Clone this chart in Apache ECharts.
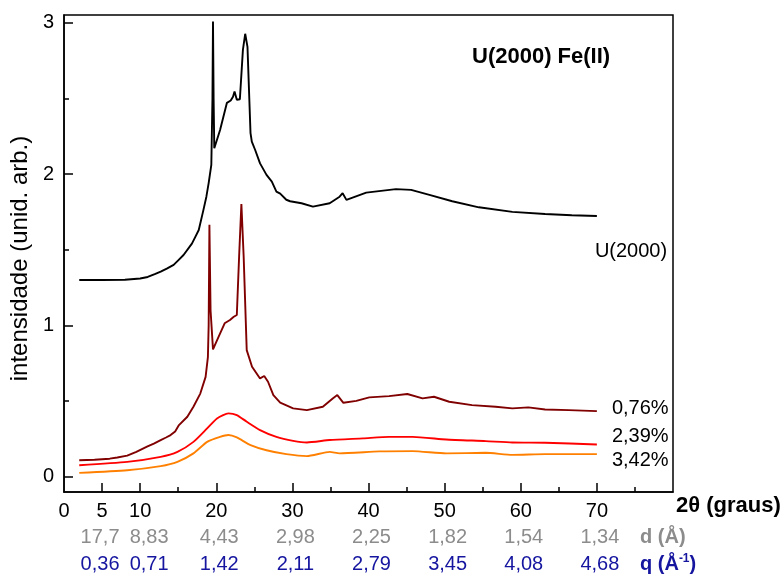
<!DOCTYPE html>
<html>
<head>
<meta charset="utf-8">
<script src="https://cdn.jsdelivr.net/npm/echarts@6/dist/echarts.min.js"></script>
<style>
  html, body { margin: 0; padding: 0; background: #fff; }
  #chart { width: 784px; height: 576px; }
</style>
</head>
<body>
<div id="chart"></div>
<script>
// 2θ values (graus) and intensities for each sample
const u2000X = [2, 5, 8, 10, 11, 12, 12.7, 13.5, 14.4, 15, 15.7, 16.8, 17.2, 17.7, 18.3, 18.7, 19.0, 19.35, 19.5, 19.57, 19.65, 19.74, 20.5, 21.4, 21.9, 22.2, 22.4, 22.7, 23.1, 23.5, 23.8, 24.1, 24.5, 24.67, 25.1, 25.75, 26.6, 27.3, 27.5, 27.9, 28.4, 29.2, 29.7, 31.2, 32.7, 34.9, 36.2, 36.6, 37.1, 39.7, 43.6, 45.6, 48, 51, 54.5, 58.9, 63.2, 66.7, 70];
const u2000Y = [1.30, 1.30, 1.302, 1.31, 1.32, 1.34, 1.355, 1.375, 1.40, 1.43, 1.465, 1.54, 1.58, 1.63, 1.76, 1.85, 1.94, 2.06, 2.5, 3.007, 2.5, 2.17, 2.29, 2.47, 2.485, 2.51, 2.545, 2.49, 2.494, 2.82, 2.926, 2.84, 2.27, 2.214, 2.16, 2.07, 1.994, 1.95, 1.96, 1.884, 1.87, 1.83, 1.82, 1.807, 1.785, 1.807, 1.85, 1.873, 1.829, 1.877, 1.9, 1.895, 1.862, 1.82, 1.78, 1.75, 1.736, 1.728, 1.723];

const fe076X = [2, 4, 6, 7, 8.3, 9.5, 10.9, 11.8, 12.7, 13.4, 14, 14.6, 15.1, 16.2, 17, 17.9, 18.6, 18.9, 19.0, 19.1, 19.25, 19.57, 20.3, 21.1, 21.8, 22.3, 22.7, 23.0, 23.3, 23.6, 24.0, 24.7, 25.75, 26.3, 26.8, 27.5, 28.4, 30.1, 31.9, 34.0, 35.3, 35.9, 36.7, 38.4, 40.1, 42.7, 45.1, 47.1, 48.6, 50.6, 53.6, 56.7, 58.9, 61.0, 63.2, 66.3, 70];
const fe076Y = [0.11, 0.113, 0.12, 0.128, 0.14, 0.165, 0.20, 0.22, 0.243, 0.26, 0.276, 0.30, 0.342, 0.397, 0.463, 0.55, 0.66, 0.79, 1.0, 1.664, 1.1, 0.842, 0.925, 1.014, 1.036, 1.057, 1.069, 1.454, 1.802, 1.454, 0.837, 0.727, 0.65, 0.666, 0.628, 0.54, 0.49, 0.452, 0.441, 0.463, 0.518, 0.54, 0.489, 0.502, 0.525, 0.533, 0.547, 0.518, 0.529, 0.496, 0.474, 0.463, 0.452, 0.459, 0.445, 0.441, 0.434];

const fe239X = [2, 8.3, 12.7, 14.9, 17, 18.8, 20.1, 21.6, 22.7, 24, 25.75, 27.9, 30.1, 31.9, 34.9, 39.3, 42.7, 45.8, 50.2, 55.4, 58.9, 63.2, 70];
const fe239Y = [0.077, 0.099, 0.132, 0.165, 0.231, 0.32, 0.386, 0.419, 0.408, 0.364, 0.309, 0.264, 0.238, 0.227, 0.243, 0.254, 0.264, 0.264, 0.247, 0.236, 0.227, 0.225, 0.214];

const fe342X = [2, 8.3, 12.7, 14.9, 17, 18.8, 20.5, 21.6, 22.7, 24.5, 26.6, 29.2, 31.9, 34.9, 36.2, 41.4, 45.8, 50.2, 55.4, 58.9, 63.2, 70];
const fe342Y = [0.026, 0.044, 0.071, 0.099, 0.155, 0.231, 0.264, 0.276, 0.26, 0.21, 0.176, 0.15, 0.137, 0.165, 0.155, 0.168, 0.17, 0.155, 0.159, 0.145, 0.15, 0.15];

// Series names shown at the end of each curve
const seriesNames = ['U(2000)', '0,76%', '2,39%', '3,42%'];

// Axis ticks and the secondary scales (d-spacing and q) under the 2θ axis
const xMajorTicks = [5, 10, 20, 30, 40, 50, 60, 70];
const xLabelValues = [0, 5, 10, 20, 30, 40, 50, 60, 70];
const xMinorTicks = [15, 25, 35, 45, 55, 65, 75];
const dLabels = ['17,7', '8,83', '4,43', '2,98', '2,25', '1,82', '1,54', '1,34'];
const qLabels = ['0,36', '0,71', '1,42', '2,11', '2,79', '3,45', '4,08', '4,68'];
const yMajorTicks = [0, 1, 2, 3];
const yMinorTicks = [0.5, 1.5, 2.5];

const FONT = '"Liberation Sans", Arial, sans-serif';
const zip = (xs, ys) => xs.map((x, i) => [x, ys[i]]);

function secondaryFormatter(labels) {
  return function (value) {
    const i = xMajorTicks.indexOf(value);
    if (i < 0) return '';
    const style = i === 0 ? 'l' : (i === 1 ? 'r' : 'n');
    return '{' + style + '|' + labels[i] + '}';
  };
}
function secondaryRich(color) {
  const base = { fontFamily: FONT, fontSize: 20, color: color };
  return {
    l: Object.assign({ padding: [0, 4, 0, 0] }, base),
    r: Object.assign({ padding: [0, 0, 0, 18] }, base),
    n: Object.assign({ padding: [0, 0, 0, 6] }, base)
  };
}

const chart = echarts.init(document.getElementById('chart'), null, { renderer: 'canvas' });

const lineSeries = (name, xs, ys, color, smooth, labelOffset) => ({
  name: name,
  type: 'line',
  data: zip(xs, ys),
  xAxisIndex: 0,
  yAxisIndex: 0,
  showSymbol: false,
  symbol: 'none',
  smooth: smooth,
  animation: false,
  lineStyle: { color: color, width: 1.9 },
  endLabel: {
    show: true,
    formatter: name,
    distance: 0,
    offset: labelOffset,
    fontFamily: FONT,
    fontSize: 20,
    color: '#000'
  }
});

chart.setOption({
  animation: false,
  backgroundColor: '#fff',
  title: {
    text: 'U(2000) Fe(II)',
    left: 472,
    top: 46,
    padding: 0,
    textStyle: { fontFamily: FONT, fontSize: 22, fontWeight: 'bold', color: '#000' }
  },
  grid: {
    left: 63, right: 111, top: 15, bottom: 84,
    show: true, borderColor: '#000', borderWidth: 1.5, backgroundColor: 'transparent'
  },
  xAxis: [
    {
      type: 'value', min: 0, max: 80, interval: 10, position: 'bottom',
      name: '2θ (graus)',
      nameLocation: 'end',
      nameGap: 3,
      nameTextStyle: { fontFamily: FONT, fontSize: 22, fontWeight: 'bold', color: '#000', verticalAlign: 'top', padding: [3, 0, 0, 0] },
      axisLine: { onZero: false, lineStyle: { color: '#000', width: 1.5 } },
      axisTick: { inside: true, length: 9, customValues: xMajorTicks, lineStyle: { color: '#000', width: 1.5 } },
      axisLabel: { customValues: xLabelValues, margin: 9, fontFamily: FONT, fontSize: 20, color: '#000' },
      splitLine: { show: false }
    },
    {
      type: 'value', min: 0, max: 80, interval: 10, position: 'bottom',
      axisLine: { show: false, onZero: false },
      axisTick: { show: true, inside: true, length: 5, customValues: xMinorTicks, lineStyle: { color: '#000', width: 1.5 } },
      axisLabel: { show: false },
      splitLine: { show: false }
    },
    {
      type: 'value', min: 0, max: 80, interval: 10, position: 'bottom', offset: 45,
      name: 'd (Å)',
      nameLocation: 'end',
      nameGap: -33,
      nameTextStyle: { fontFamily: FONT, fontSize: 20, fontWeight: 'bold', color: '#8c8c8c', align: 'left', verticalAlign: 'middle' },
      axisLine: { show: false, onZero: false },
      axisTick: { show: false },
      axisLabel: {
        customValues: xMajorTicks, margin: -10,
        formatter: secondaryFormatter(dLabels), rich: secondaryRich('#8c8c8c')
      },
      splitLine: { show: false }
    },
    {
      type: 'value', min: 0, max: 80, interval: 10, position: 'bottom', offset: 72,
      name: '{b|q (Å}{s|-1}{b|)}',
      nameLocation: 'end',
      nameGap: -33,
      nameTextStyle: {
        align: 'left', verticalAlign: 'middle',
        rich: {
          b: { fontFamily: FONT, fontSize: 20, fontWeight: 'bold', color: '#1515a0', lineHeight: 22 },
          s: { fontFamily: FONT, fontSize: 12, fontWeight: 'bold', color: '#1515a0', verticalAlign: 'top', lineHeight: 22 }
        }
      },
      axisLine: { show: false, onZero: false },
      axisTick: { show: false },
      axisLabel: {
        customValues: xMajorTicks, margin: -10,
        formatter: secondaryFormatter(qLabels), rich: secondaryRich('#1515a0')
      },
      splitLine: { show: false }
    }
  ],
  yAxis: [
    {
      type: 'value', min: -0.1, max: 3.05, position: 'left',
      name: 'intensidade (unid. arb.)',
      nameLocation: 'middle',
      nameGap: 29,
      nameTextStyle: { fontFamily: FONT, fontSize: 24, color: '#000', padding: [0, 10, 0, 0] },
      axisLine: { onZero: false, lineStyle: { color: '#000', width: 1.5 } },
      axisTick: { inside: true, length: 9, customValues: yMajorTicks, lineStyle: { color: '#000', width: 1.5 } },
      axisLabel: { customValues: yMajorTicks, margin: 10, fontFamily: FONT, fontSize: 20, color: '#000' },
      splitLine: { show: false }
    },
    {
      type: 'value', min: -0.1, max: 3.05, position: 'left',
      axisLine: { show: false, onZero: false },
      axisTick: { show: true, inside: true, length: 5, customValues: yMinorTicks, lineStyle: { color: '#000', width: 1.5 } },
      axisLabel: { show: false },
      splitLine: { show: false }
    }
  ],
  series: [
    lineSeries(seriesNames[0], u2000X, u2000Y, '#000000', false, [-2, 36]),
    lineSeries(seriesNames[1], fe076X, fe076Y, '#800000', false, [15, -3]),
    lineSeries(seriesNames[2], fe239X, fe239Y, '#ff0000', 0.2, [15, -8]),
    lineSeries(seriesNames[3], fe342X, fe342Y, '#ff8000', 0.2, [15, 6])
  ]
});
</script>
</body>
</html>
